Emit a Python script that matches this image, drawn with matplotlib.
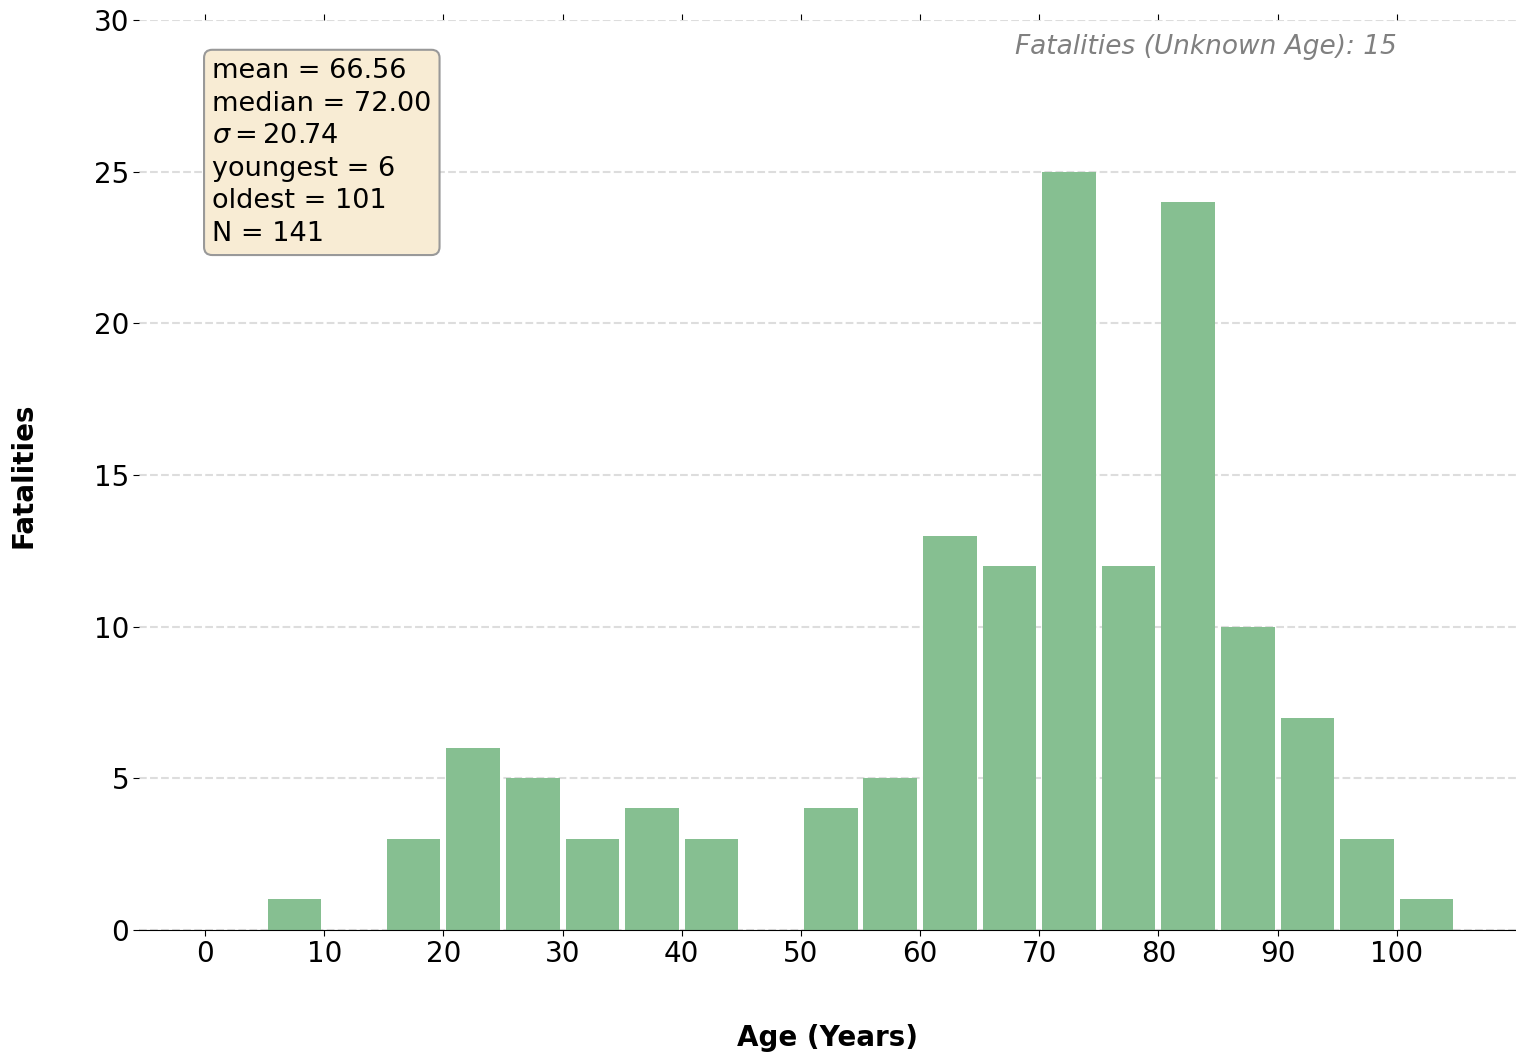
import matplotlib
matplotlib.use("Agg")
import matplotlib.pyplot as plt

bin_left = [5, 15, 20, 25, 30, 35, 40, 50, 55, 60, 65, 70, 75, 80, 85, 90, 95, 100]
counts = [1, 3, 6, 5, 3, 4, 3, 4, 5, 13, 12, 25, 12, 24, 10, 7, 3, 1]
bin_width = 5
stats_text = ("mean = 66.56\nmedian = 72.00\n$\\sigma = $20.74\n"
              "youngest = 6\noldest = 101\nN = 141")
unknown_text = "Fatalities (Unknown Age): 15"

fig = plt.figure(figsize=(15.16, 10.53), dpi=100)
ax = fig.add_axes([0.092, 0.117, 0.908, 0.864])

centers = [b + bin_width / 2 for b in bin_left]
ax.bar(centers, counts, width=bin_width * 0.9, color="#86bf91", zorder=2)

ax.set_xlim(-5.5, 110)
ax.set_ylim(0, 30)
ax.set_xticks(range(0, 101, 10))
ax.set_yticks(range(0, 31, 5))
ax.tick_params(labelsize=20, length=4)
ax.tick_params(axis="x", top=True, direction="out")
ax.yaxis.grid(True, linestyle="--", color="#dddddd", linewidth=1.5, zorder=0)
for s in ["left", "right", "top"]:
    ax.spines[s].set_visible(False)

ax.set_ylabel("Fatalities", fontsize=20, fontweight="bold", labelpad=40)
ax.set_xlabel("Age (Years)", fontsize=20, fontweight="bold", labelpad=40)

ax.text(0.6, 28.75, stats_text, fontsize=19.5, va="top", ha="left", linespacing=1.33,
        bbox=dict(boxstyle="round,pad=0.3", facecolor="#f8ecd4", edgecolor="#999999",
                  linewidth=1.5))
ax.text(100, 29.1, unknown_text, fontsize=19, style="italic", color="gray",
        ha="right", va="center")

fig.savefig("out.png", dpi=100)
